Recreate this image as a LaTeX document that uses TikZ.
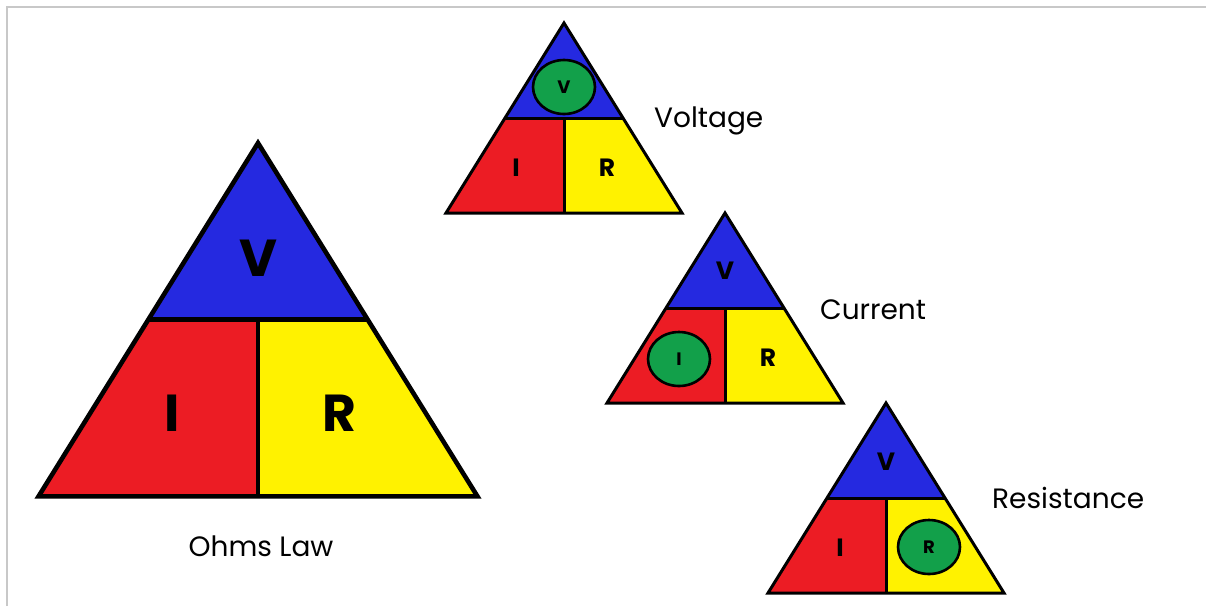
\documentclass[tikz,border=0pt]{standalone}
\usepackage{fontspec}
\setmainfont{Poppins}
\usetikzlibrary{shapes.geometric}

\definecolor{vblue}{HTML}{2529E0}
\definecolor{ired}{HTML}{EC1C24}
\definecolor{ryellow}{HTML}{FFF200}
\definecolor{hgreen}{HTML}{12A04A}
\definecolor{framegray}{HTML}{C8C8C8}

% One Ohm's-law triangle: apex at (#1,#2), scale #3, outline width #4
\newcommand\ohmstri[4]{%
  \begin{scope}[shift={(#1,#2)},scale=#3]
    \fill[vblue]   (0,0) -- (59,95) -- (-59,95) -- cycle;
    \fill[ired]    (-59,95) -- (0,95) -- (0,190) -- (-118,190) -- cycle;
    \fill[ryellow] (0,95) -- (59,95) -- (118,190) -- (0,190) -- cycle;
    \draw[line width=#4, line join=miter] (0,0) -- (118,190) -- (-118,190) -- cycle;
    \draw[line width=#4] (-59,95) -- (59,95) (0,95) -- (0,190);
  \end{scope}}

\tikzset{
  bigletter/.style={font=\bfseries\fontsize{52}{62}\selectfont, inner sep=0pt},
  letter/.style={font=\bfseries\fontsize{25}{30}\selectfont, inner sep=0pt},
  marked/.style={ellipse, draw=black, fill=hgreen, line width=2.6pt,
    minimum width=62pt, minimum height=54pt, inner sep=0pt,
    font=\bfseries\fontsize{18}{21}\selectfont},
  caption/.style={font=\fontsize{28}{33}\selectfont, inner sep=0pt},
}

\begin{document}
\begin{tikzpicture}[x=1pt,y=-1pt]
  \useasboundingbox (0,0) rectangle (1206,606);
  \fill[white] (0,0) rectangle (1206,606);
  % frame lines
  \draw[framegray, line width=2pt] (7,606) -- (7,7) -- (1206,7);

  % main triangle
  \ohmstri{258}{143}{1.86}{4.6pt}
  \node[bigletter] (mv) at (258,258) {V};
  \node[bigletter] (mi) at (172,413) {I};
  \node[bigletter] (mr) at (339,413) {R};
  \node[caption, anchor=base] (ohms) at (261,556) {Ohms Law};

  % voltage
  \ohmstri{564}{23}{1}{3pt}
  \node[marked] (vv) at (564,87) {V};
  \node[letter] (vi) at (516,168) {I};
  \node[letter] (vr) at (607,168) {R};
  \node[caption, anchor=base west] (vlab) at (654,127) {Voltage};

  % current
  \ohmstri{725}{213}{1}{3pt}
  \node[letter] (cv) at (725,271) {V};
  \node[marked] (ci) at (679,359) {I};
  \node[letter] (cr) at (768,358) {R};
  \node[caption, anchor=base west] (clab) at (820,319) {Current};

  % resistance
  \ohmstri{886}{403}{1}{3pt}
  \node[letter] (rv) at (886,462) {V};
  \node[letter] (ri) at (840,548) {I};
  \node[marked] (rr) at (929,547) {R};
  \node[caption, anchor=base west] (rlab) at (992,508) {Resistance};
\end{tikzpicture}
\end{document}
